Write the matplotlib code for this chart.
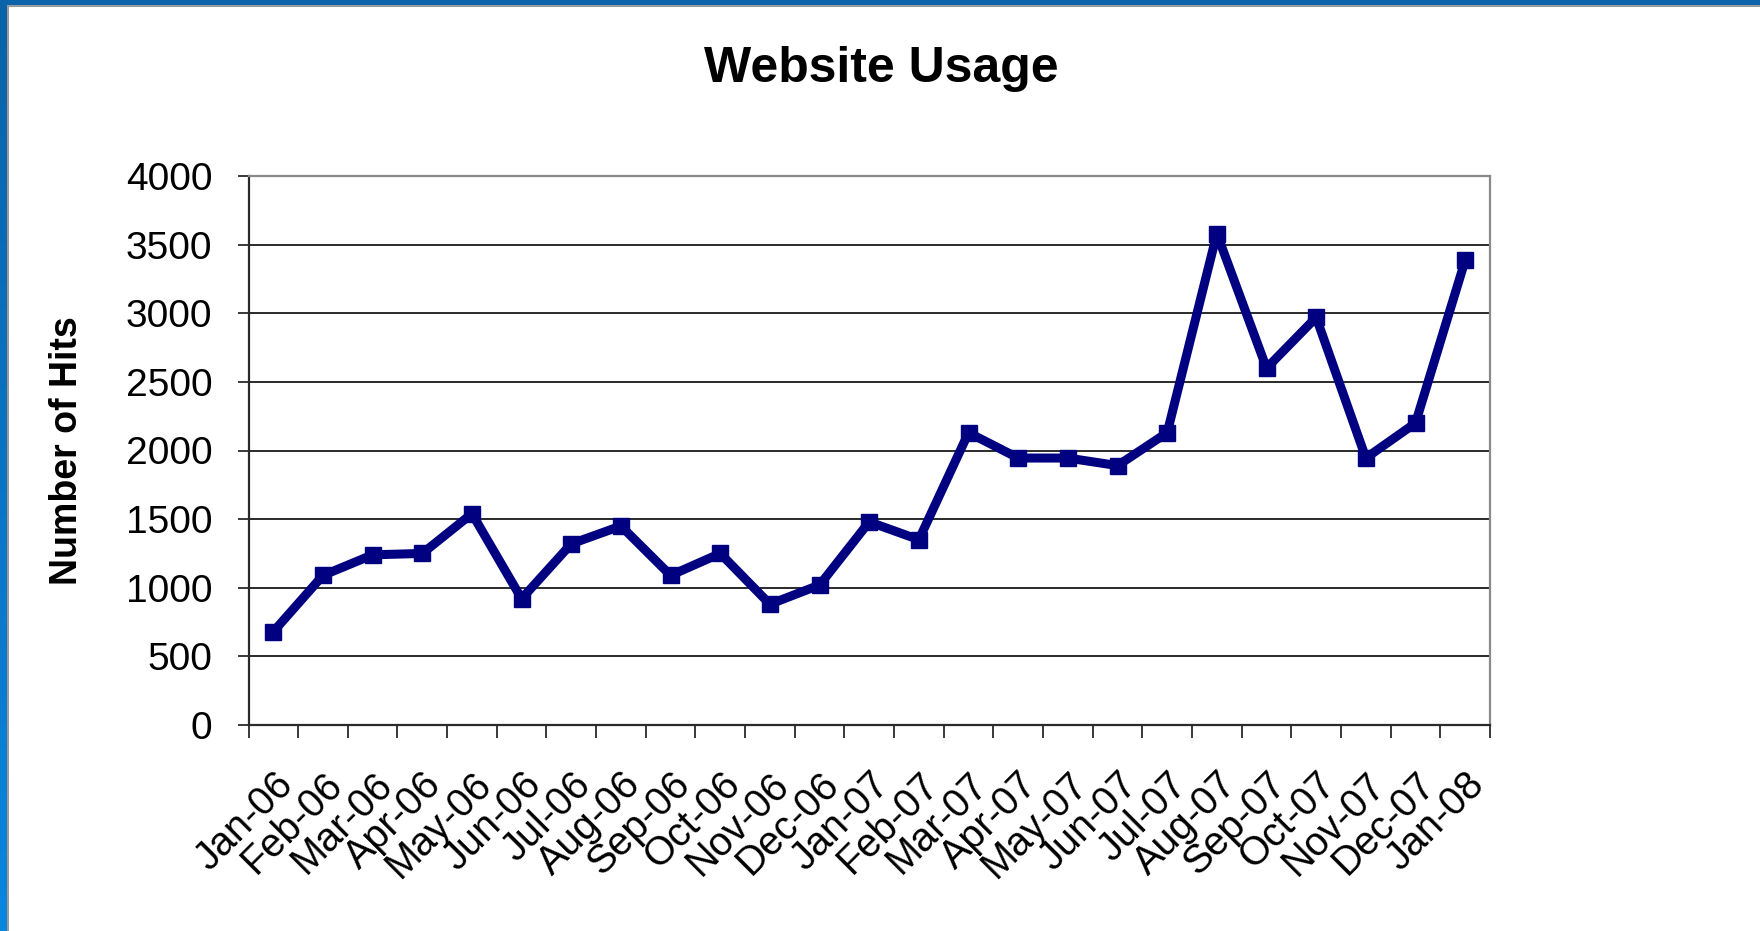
import numpy as np
import matplotlib.pyplot as plt
import matplotlib.patches as patches
from matplotlib.ticker import FixedLocator

months = ['Jan-06', 'Feb-06', 'Mar-06', 'Apr-06', 'May-06', 'Jun-06', 'Jul-06',
          'Aug-06', 'Sep-06', 'Oct-06', 'Nov-06', 'Dec-06', 'Jan-07', 'Feb-07',
          'Mar-07', 'Apr-07', 'May-07', 'Jun-07', 'Jul-07', 'Aug-07', 'Sep-07',
          'Oct-07', 'Nov-07', 'Dec-07', 'Jan-08']
hits = [680, 1090, 1240, 1250, 1540, 920, 1320, 1450, 1090, 1250, 880, 1020,
        1480, 1350, 2130, 1945, 1945, 1890, 2130, 3580, 2600, 2970, 1945, 2200, 3385]
y_ticks = [0, 500, 1000, 1500, 2000, 2500, 3000, 3500, 4000]

plt.rcParams['font.family'] = ['Liberation Sans', 'DejaVu Sans']

W, H = 1760, 931
fig = plt.figure(figsize=(W / 100, H / 100), dpi=100)
fig.patch.set_facecolor('white')

## slide frame: blue band on top and a gradient band on the left
grad = np.linspace(0, 1, 256).reshape(-1, 1)
band = fig.add_axes([0, 0, 7 / W, 1])
band.imshow(grad, aspect='auto', cmap=plt.matplotlib.colors.LinearSegmentedColormap.from_list(
    'frame', ['#0a62a8', '#0a86de']), origin='upper')
band.axis('off')
fig.patches.append(patches.Rectangle((0, 1 - 5 / H), 1, 5 / H, transform=fig.transFigure,
                                     facecolor='#0a64aa', edgecolor='none', zorder=5))
fig.patches.append(patches.Rectangle((7 / W, 0), 1.5 / W, 1 - 5 / H, transform=fig.transFigure,
                                     facecolor='#9a9a9a', edgecolor='none', zorder=5))
fig.patches.append(patches.Rectangle((7 / W, 1 - 6.5 / H), 1, 1.5 / H, transform=fig.transFigure,
                                     facecolor='#9a9a9a', edgecolor='none', zorder=5))

## plot area
ax = fig.add_axes([248.5 / W, 1 - 725 / H, (1490 - 248.5) / W, (725 - 176) / H])
x = np.arange(len(months))
ax.plot(x, hits, color='#000080', lw=6.5, marker='s', markersize=12,
        markerfacecolor='#000080', markeredgecolor='#000080', zorder=3, clip_on=False)

ax.set_xlim(-0.5, len(months) - 0.5)
ax.set_ylim(0, 4000)
ax.set_yticks(y_ticks)
ax.set_yticklabels([str(v) for v in y_ticks], fontsize=28)
ax.tick_params(axis='y', direction='out', length=8, width=1.3, color='#2a2a2a', pad=18)

ax.set_xticks(x)
ax.set_xticklabels(months, fontsize=28.5, rotation=45, ha='right', va='top',
                   rotation_mode='anchor')
ax.tick_params(axis='x', which='major', length=0, pad=29)
ax.xaxis.set_minor_locator(FixedLocator(np.arange(-0.5, len(months), 1.0)))
ax.tick_params(axis='x', which='minor', direction='out', length=9.5, width=1.3, color='#2a2a2a')

ax.grid(axis='y', color='#2a2a2a', lw=1.4, zorder=1)
ax.set_axisbelow(True)
for side in ['left', 'bottom']:
    ax.spines[side].set_color('#2a2a2a')
    ax.spines[side].set_linewidth(1.6)
for side in ['top', 'right']:
    ax.spines[side].set_color('#8a8a8a')
    ax.spines[side].set_linewidth(1.6)

fig.text(881 / W, 1 - 68.5 / H, 'Website Usage', fontsize=36, fontweight='bold',
         ha='center', va='center')
fig.text(67 / W, 1 - 451 / H, 'Number of Hits', fontsize=27, fontweight='bold',
         rotation=90, ha='center', va='center')

fig.savefig('out.png', dpi=100, facecolor='white')
